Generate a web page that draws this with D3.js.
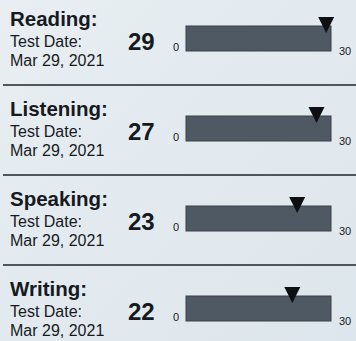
<!DOCTYPE html>
<html>
<head>
<meta charset="utf-8">
<script src="https://cdn.jsdelivr.net/npm/d3@7"></script>
<style>
  html, body { margin: 0; padding: 0; background: #e4ebf0; }
  svg { display: block; }
  text { font-family: "Liberation Sans", Arial, sans-serif; fill: #161a1e; }
</style>
</head>
<body>
<svg id="chart" width="356" height="341"></svg>
<script>
// Section scores on a 0–30 scale
const sections = ["Reading:", "Listening:", "Speaking:", "Writing:"];
const scores = [29, 27, 23, 22];
const testDates = ["Mar 29, 2021", "Mar 29, 2021", "Mar 29, 2021", "Mar 29, 2021"];
const scaleEnds = [0, 30];

const W = 356, H = 341, rowH = 90;
const svg = d3.select("#chart");

// subtle paper gradient
const defs = svg.append("defs");
const grad = defs.append("linearGradient").attr("id", "paper")
  .attr("x1", 0).attr("y1", 0).attr("x2", 1).attr("y2", 1);
grad.append("stop").attr("offset", 0).attr("stop-color", "#e8eef2");
grad.append("stop").attr("offset", 1).attr("stop-color", "#dde6ec");
svg.append("rect").attr("width", W).attr("height", H).attr("fill", "url(#paper)");

const x = d3.scaleLinear().domain(scaleEnds).range([186, 331]);
const y = d3.scaleBand().domain(sections).range([0, rowH * sections.length]);

const rows = svg.selectAll("g.row").data(sections).join("g")
  .attr("class", "row")
  .attr("transform", d => `translate(0,${y(d)})`);

rows.append("text").attr("x", 10).attr("y", 26)
  .style("font-size", "20.5px").style("font-weight", "bold")
  .text(d => d);
rows.append("text").attr("x", 10).attr("y", 47)
  .style("font-size", "16px").text("Test Date:");
rows.append("text").attr("x", 10).attr("y", 66)
  .style("font-size", "16px").text((d, i) => testDates[i]);

rows.append("text").attr("x", 128).attr("y", 50)
  .style("font-size", "24px").style("font-weight", "bold")
  .text((d, i) => scores[i]);

// score track
rows.append("rect")
  .attr("x", x(scaleEnds[0])).attr("y", 26)
  .attr("width", x(scaleEnds[1]) - x(scaleEnds[0])).attr("height", 25)
  .attr("fill", "#4f5963").attr("stroke", "#3b434b").attr("stroke-width", 1);

rows.append("text").attr("x", x(scaleEnds[0]) - 7).attr("y", 51)
  .attr("text-anchor", "end").style("font-size", "11px").text(scaleEnds[0]);
rows.append("text").attr("x", x(scaleEnds[1]) + 8).attr("y", 55)
  .style("font-size", "11px").text(scaleEnds[1]);

// score marker
rows.append("path")
  .attr("d", (d, i) => {
    const cx = x(scores[i]);
    return `M${cx - 8},17 L${cx + 8},17 L${cx},33 Z`;
  })
  .attr("fill", "#0d0f12");

// separators between sections
svg.selectAll("line.sep").data(sections.slice(1)).join("line")
  .attr("class", "sep")
  .attr("x1", 3).attr("x2", W)
  .attr("y1", d => y(d) - 5).attr("y2", d => y(d) - 5)
  .attr("stroke", "#50565c").attr("stroke-width", 2);
</script>
</body>
</html>
